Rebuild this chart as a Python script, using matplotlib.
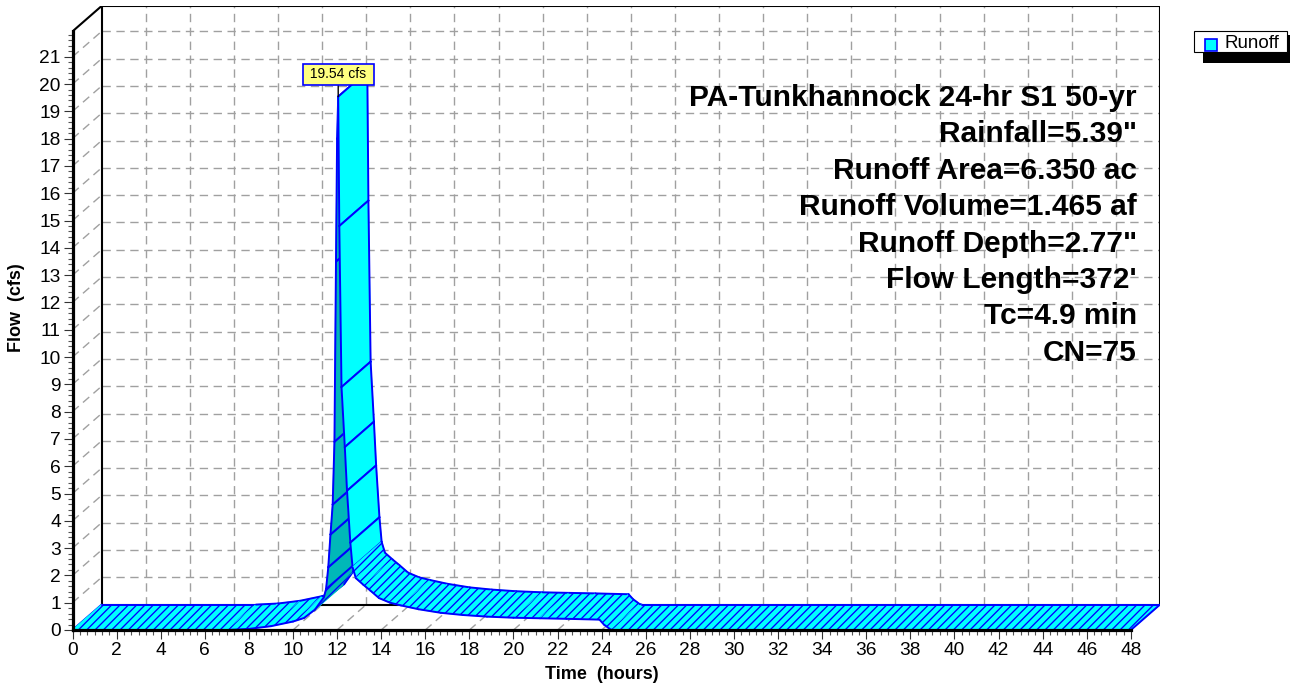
import matplotlib.pyplot as plt
import numpy as np
from matplotlib.patches import Polygon, Rectangle
from matplotlib.ticker import FixedLocator

''' Data '''
# runoff hydrograph
time_hr = [0.0, 7.0, 8.0, 9.0, 10.0, 10.5, 11.0, 11.4, 11.5, 11.6, 11.7, 11.8,
           11.88, 11.95, 12.0, 12.05, 12.1, 12.2, 12.35, 12.45, 12.6, 12.7,
           12.85, 13.2, 13.5, 13.9, 14.4, 14.9, 15.7, 16.7, 17.7, 18.8, 20.0,
           21.2, 22.4, 23.9, 24.1, 24.4, 24.5, 48.0]
flow_cfs = [0.0, 0.0, 0.04, 0.14, 0.31, 0.44, 0.75, 1.2, 1.5, 2.3, 3.5, 4.6,
            6.9, 13.5, 18.0, 19.54, 14.8, 8.9, 6.7, 5.1, 3.2, 2.3,
            1.9, 1.65, 1.45, 1.17, 1.0, 0.9, 0.76, 0.63, 0.55, 0.49, 0.45,
            0.43, 0.41, 0.38, 0.2, 0.02, 0.0, 0.0]

series_label = "Runoff"
stats_lines = ['PA-Tunkhannock 24-hr S1 50-yr',
               'Rainfall=5.39"',
               'Runoff Area=6.350 ac',
               'Runoff Volume=1.465 af',
               'Runoff Depth=2.77"',
               "Flow Length=372'",
               'Tc=4.9 min',
               'CN=75']

xaxis_label = "Time  (hours)"
yaxis_label = "Flow  (cfs)"

''' Plot Settings '''
W, H = 1294, 686
T_END = 48          # last hour on the time axis
Y_TOP = 21.93       # top of the front flow axis
DX, DY = 1.32, 0.93 # depth offset of the back wall, in data units

CYAN = '#00FFFF'
DARK = '#00B8B8'
BLUE = '#0000FF'
GRID = '#A0A0A0'

plt.rcParams['font.family'] = 'Liberation Sans'
plt.rcParams['hatch.linewidth'] = 0.95

fig = plt.figure(figsize=(W / 100, H / 100), dpi=100)
ax = fig.add_axes([72.5 / W, 56 / H, 1087.5 / W, 624 / H])
ax.set_xlim(0, T_END + DX)
ax.set_ylim(0, Y_TOP + DY)

# front axes only
ax.spines['top'].set_visible(False)
ax.spines['right'].set_visible(False)
ax.spines['left'].set_bounds(0, Y_TOP)
ax.spines['bottom'].set_bounds(0, T_END)
for s in ('left', 'bottom'):
    ax.spines[s].set_linewidth(2.3)

ax.set_xticks(np.arange(0, T_END + 1, 2))
ax.set_yticks(np.arange(0, 22, 1))
ax.xaxis.set_minor_locator(FixedLocator(np.arange(0, T_END + 0.01, 1 / 3)))
ax.yaxis.set_minor_locator(FixedLocator(np.arange(0, Y_TOP, 0.2)))
ax.tick_params(which='major', length=6.5, width=0.8, color='#333333',
               labelsize=13.8, pad=2)
ax.tick_params(which='minor', length=3.5, width=0.8, color='#555555')

ax.set_xlabel(xaxis_label, fontsize=13, fontweight='bold')
ax.set_ylabel(yaxis_label, fontsize=13, fontweight='bold')
ax.xaxis.set_label_coords(24 / (T_END + DX), -0.058)
ax.yaxis.set_label_coords(-0.044, 0.516)

# back wall grid, side wall and floor diagonals
grid_kw = dict(color=GRID, lw=1.0, ls=(0, (6, 4)), zorder=1)
for q in range(1, 22):
    ax.plot([DX, T_END + DX], [q + DY, q + DY], **grid_kw)
    ax.plot([0, DX], [q, q + DY], **grid_kw)
for t in range(2, T_END, 2):
    ax.plot([t + DX, t + DX], [DY, Y_TOP + DY], **grid_kw)
    ax.plot([t, t + DX], [0, DY], **grid_kw)

# box frame
frame_kw = dict(color='black', lw=1.5, zorder=1.5, solid_capstyle='butt')
ax.plot([DX, DX], [DY, Y_TOP + DY], **frame_kw)
ax.plot([T_END + DX, T_END + DX], [DY, Y_TOP + DY], **frame_kw)
ax.plot([DX, T_END + DX], [Y_TOP + DY, Y_TOP + DY], **frame_kw)
ax.plot([DX, T_END + DX], [DY, DY], **frame_kw)
ax.plot([0, DX], [Y_TOP, Y_TOP + DY], **frame_kw)

# ribbon: one quad per time step, drawn front to back in time order
front = np.column_stack([time_hr, flow_cfs])
back = front + [DX, DY]
pf = ax.transData.transform(front)
pb = ax.transData.transform(back)
edge_kw = dict(color=BLUE, lw=1.4, zorder=2, solid_capstyle='round')

ax.plot([front[0, 0], back[0, 0]], [front[0, 1], back[0, 1]], **edge_kw)
for i in range(len(front) - 1):
    quad = [front[i], front[i + 1], back[i + 1], back[i]]
    seg = pf[i + 1] - pf[i]
    off = pb[i] - pf[i]
    facing = seg[0] * off[1] - seg[1] * off[0]
    col = CYAN if facing >= 0 else DARK
    steep = abs(seg[1]) > 5 * abs(seg[0])
    ax.add_patch(Polygon(quad, closed=True, fc=col, ec=col, lw=0.8, zorder=2))
    if not steep:
        ax.add_patch(Polygon(quad, closed=True, fill=False, ec=BLUE, lw=0,
                             hatch='////', zorder=2))
    ax.plot(front[i:i + 2, 0], front[i:i + 2, 1], **edge_kw)
    ax.plot(back[i:i + 2, 0], back[i:i + 2, 1], **edge_kw)
    if steep:
        for j in (i, i + 1):
            ax.plot([front[j, 0], back[j, 0]], [front[j, 1], back[j, 1]], **edge_kw)
ax.plot([front[-1, 0], back[-1, 0]], [front[-1, 1], back[-1, 1]], **edge_kw)

# peak label
ip = int(np.argmax(flow_cfs))
ax.annotate(f" {flow_cfs[ip]:.2f} cfs ", xy=(time_hr[ip], flow_cfs[ip]),
            xytext=(0, 11), textcoords='offset points', ha='center', va='bottom',
            fontsize=10, zorder=6, annotation_clip=False,
            bbox=dict(boxstyle='square,pad=0.25', fc='#FFFF80', ec=BLUE, lw=1.2),
            arrowprops=dict(arrowstyle='-', color='black', lw=1.0,
                            shrinkA=0, shrinkB=0))

# storm summary
for k, line in enumerate(stats_lines):
    fig.text(1137 / W, 1 - (98 + 36.4 * k) / H, line, ha='right', va='center',
             fontsize=21.5, fontweight='bold')

# legend
fig.add_artist(Rectangle((1203 / W, 1 - 63 / H), 87 / W, 28 / H,
                         transform=fig.transFigure, fc='black', ec='none'))
fig.add_artist(Rectangle((1194 / W, 1 - 52 / H), 93 / W, 21 / H,
                         transform=fig.transFigure, fc='white', ec='black', lw=0.8))
fig.add_artist(Rectangle((1205 / W, 1 - 51 / H), 12 / W, 12 / H,
                         transform=fig.transFigure, fc=CYAN, ec=BLUE, lw=1.2))
fig.text(1225 / W, 1 - 43 / H, series_label, fontsize=13.5, va='center')

plt.savefig('out.png', dpi=100)
